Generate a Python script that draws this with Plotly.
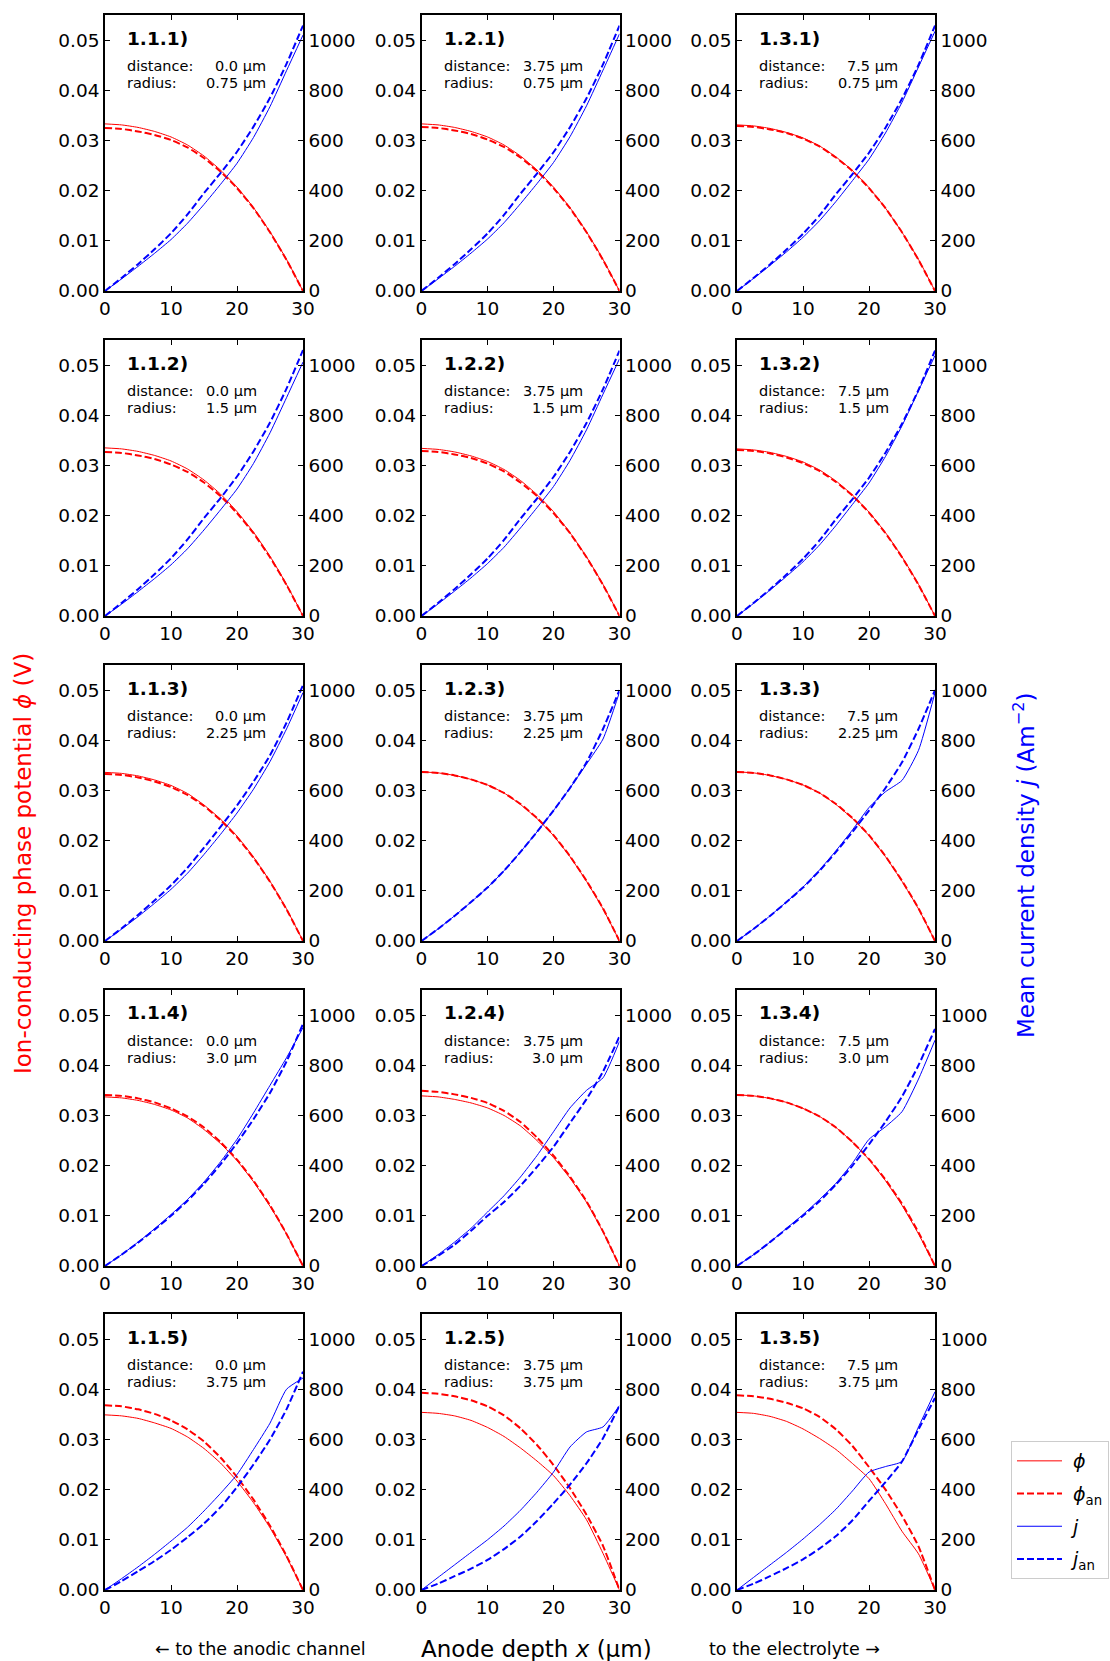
import plotly.graph_objects as go

# ---------------- data ----------------
x_depth = [0, 2.5, 5, 7.5, 10, 12.5, 15, 17.5, 20, 22.5, 25, 27.5, 30]

labels = ["1.1.1)", "1.2.1)", "1.3.1)",
          "1.1.2)", "1.2.2)", "1.3.2)",
          "1.1.3)", "1.2.3)", "1.3.3)",
          "1.1.4)", "1.2.4)", "1.3.4)",
          "1.1.5)", "1.2.5)", "1.3.5)"]
distances = ["0.0", "3.75", "7.5"]
radii = ["0.75", "1.5", "2.25", "3.0", "3.75"]

# row 1
phi_111 = [0.0333, 0.0331, 0.0326, 0.0318, 0.0307, 0.0291, 0.0269, 0.0241, 0.0207, 0.0166, 0.0118, 0.0063, 0.0]
phian_111 = [0.0325, 0.0323, 0.0318, 0.0311, 0.0301, 0.0286, 0.0265, 0.0238, 0.0205, 0.0165, 0.0117, 0.0062, 0.0]
j_111 = [0, 48, 98, 150, 205, 270, 345, 425, 509, 612, 735, 878, 1020]
jan_111 = [0, 52, 107, 166, 230, 305, 390, 470, 555, 655, 770, 905, 1058]

phi_121 = [0.0333, 0.0331, 0.0326, 0.0318, 0.0307, 0.0291, 0.0269, 0.0241, 0.0207, 0.0166, 0.0118, 0.0063, 0.0]
phian_121 = [0.0327, 0.0325, 0.0320, 0.0313, 0.0302, 0.0287, 0.0266, 0.0239, 0.0205, 0.0165, 0.0117, 0.0062, 0.0]
j_121 = [0, 48, 98, 151, 207, 272, 348, 428, 512, 615, 738, 880, 1025]
jan_121 = [0, 52, 107, 166, 229, 303, 388, 468, 553, 653, 768, 903, 1058]

phi_131 = [0.0331, 0.0329, 0.0324, 0.0316, 0.0305, 0.0289, 0.0267, 0.0240, 0.0206, 0.0165, 0.0117, 0.0063, 0.0]
phian_131 = [0.0329, 0.0327, 0.0322, 0.0315, 0.0304, 0.0288, 0.0266, 0.0239, 0.0205, 0.0165, 0.0117, 0.0062, 0.0]
j_131 = [0, 50, 102, 156, 214, 280, 357, 440, 525, 630, 752, 893, 1035]
jan_131 = [0, 52, 106, 165, 228, 301, 386, 466, 551, 651, 766, 901, 1058]

# row 2
phi_112 = [0.0335, 0.0333, 0.0328, 0.0320, 0.0309, 0.0293, 0.0271, 0.0243, 0.0208, 0.0167, 0.0119, 0.0063, 0.0]
phian_112 = [0.0327, 0.0325, 0.0320, 0.0313, 0.0302, 0.0287, 0.0266, 0.0239, 0.0205, 0.0165, 0.0117, 0.0062, 0.0]
j_112 = [0, 47, 97, 149, 204, 268, 343, 423, 506, 608, 730, 870, 1012]
jan_112 = [0, 52, 107, 166, 230, 305, 390, 470, 556, 656, 771, 906, 1060]

phi_122 = [0.0334, 0.0332, 0.0327, 0.0319, 0.0308, 0.0292, 0.0270, 0.0242, 0.0208, 0.0166, 0.0118, 0.0063, 0.0]
phian_122 = [0.0329, 0.0327, 0.0322, 0.0315, 0.0304, 0.0288, 0.0266, 0.0239, 0.0205, 0.0165, 0.0117, 0.0062, 0.0]
j_122 = [0, 48, 99, 152, 209, 274, 351, 432, 516, 620, 742, 884, 1025]
jan_122 = [0, 52, 107, 166, 229, 303, 388, 468, 554, 654, 769, 904, 1058]

phi_132 = [0.0333, 0.0331, 0.0326, 0.0318, 0.0307, 0.0291, 0.0269, 0.0241, 0.0207, 0.0166, 0.0118, 0.0063, 0.0]
phian_132 = [0.0331, 0.0329, 0.0324, 0.0316, 0.0305, 0.0289, 0.0267, 0.0240, 0.0206, 0.0165, 0.0117, 0.0062, 0.0]
j_132 = [0, 50, 103, 158, 216, 283, 361, 445, 530, 636, 758, 898, 1038]
jan_132 = [0, 52, 106, 165, 228, 301, 386, 466, 551, 651, 766, 901, 1058]

# row 3
phi_113 = [0.0336, 0.0334, 0.0329, 0.0321, 0.0310, 0.0294, 0.0271, 0.0243, 0.0209, 0.0167, 0.0119, 0.0064, 0.0]
phian_113 = [0.0333, 0.0331, 0.0326, 0.0318, 0.0307, 0.0291, 0.0269, 0.0241, 0.0207, 0.0166, 0.0118, 0.0063, 0.0]
j_113 = [0, 47, 97, 150, 206, 270, 345, 425, 510, 605, 715, 845, 990]
jan_113 = [0, 50, 104, 161, 222, 292, 372, 455, 540, 635, 740, 870, 1020]

phi_123 = [0.0337, 0.0335, 0.0330, 0.0322, 0.0311, 0.0295, 0.0272, 0.0244, 0.0210, 0.0168, 0.0119, 0.0064, 0.0]
phian_123 = [0.0337, 0.0335, 0.0330, 0.0322, 0.0311, 0.0295, 0.0273, 0.0245, 0.0211, 0.0169, 0.0120, 0.0065, 0.0]
j_123 = [0, 48, 100, 155, 213, 280, 355, 435, 520, 610, 705, 805, 992]
jan_123 = [0, 48, 100, 155, 213, 280, 355, 435, 520, 610, 712, 845, 1000]

phi_133 = [0.0337, 0.0335, 0.0330, 0.0322, 0.0311, 0.0295, 0.0272, 0.0244, 0.0210, 0.0168, 0.0119, 0.0064, 0.0]
phian_133 = [0.0337, 0.0335, 0.0330, 0.0322, 0.0311, 0.0295, 0.0273, 0.0245, 0.0211, 0.0169, 0.0120, 0.0065, 0.0]
j_133 = [0, 48, 100, 156, 215, 283, 360, 443, 532, 595, 640, 760, 990]
jan_133 = [0, 48, 100, 155, 213, 280, 355, 435, 520, 610, 712, 845, 1000]

# row 4
phi_114 = [0.0337, 0.0335, 0.0330, 0.0322, 0.0311, 0.0295, 0.0272, 0.0244, 0.0210, 0.0168, 0.0119, 0.0064, 0.0]
phian_114 = [0.0341, 0.0339, 0.0334, 0.0326, 0.0314, 0.0298, 0.0276, 0.0247, 0.0212, 0.0170, 0.0121, 0.0064, 0.0]
j_114 = [0, 45, 95, 148, 205, 265, 335, 415, 505, 610, 720, 830, 950]
jan_114 = [0, 45, 93, 145, 200, 260, 328, 405, 490, 585, 690, 815, 965]

phi_124 = [0.0339, 0.0337, 0.0332, 0.0325, 0.0315, 0.0300, 0.0279, 0.0250, 0.0216, 0.0175, 0.0127, 0.0068, 0.0]
phian_124 = [0.0349, 0.0347, 0.0342, 0.0335, 0.0325, 0.0309, 0.0287, 0.0256, 0.0220, 0.0178, 0.0129, 0.0069, 0.0]
j_124 = [0, 45, 95, 150, 215, 280, 355, 440, 535, 630, 700, 750, 895]
jan_124 = [0, 40, 85, 140, 200, 255, 320, 395, 475, 570, 665, 775, 915]

phi_134 = [0.0341, 0.0339, 0.0334, 0.0326, 0.0314, 0.0298, 0.0276, 0.0247, 0.0212, 0.0170, 0.0121, 0.0064, 0.0]
phian_134 = [0.0341, 0.0339, 0.0334, 0.0326, 0.0314, 0.0298, 0.0276, 0.0247, 0.0213, 0.0172, 0.0124, 0.0067, 0.0]
j_134 = [0, 45, 95, 150, 205, 265, 330, 410, 505, 555, 615, 745, 900]
jan_134 = [0, 45, 95, 148, 200, 258, 325, 400, 485, 575, 675, 800, 945]

# row 5
phi_115 = [0.0349, 0.0347, 0.0342, 0.0333, 0.0322, 0.0305, 0.0282, 0.0253, 0.0217, 0.0174, 0.0124, 0.0066, 0.0]
phian_115 = [0.0368, 0.0366, 0.0360, 0.0351, 0.0338, 0.0320, 0.0296, 0.0264, 0.0225, 0.0180, 0.0128, 0.0068, 0.0]
j_115 = [0, 45, 92, 142, 195, 250, 315, 385, 460, 560, 665, 800, 845]
jan_115 = [0, 35, 75, 115, 160, 210, 265, 330, 410, 500, 600, 720, 870]

phi_125 = [0.0354, 0.0352, 0.0347, 0.0338, 0.0324, 0.0306, 0.0283, 0.0257, 0.0228, 0.0188, 0.0140, 0.0073, 0.0]
phian_125 = [0.0393, 0.0391, 0.0386, 0.0378, 0.0366, 0.0348, 0.0322, 0.0289, 0.0249, 0.0203, 0.0150, 0.0088, 0.0]
j_125 = [0, 50, 100, 150, 200, 255, 318, 390, 470, 570, 630, 650, 735]
jan_125 = [0, 25, 55, 85, 120, 163, 213, 275, 345, 420, 505, 605, 735]

phi_135 = [0.0354, 0.0352, 0.0346, 0.0336, 0.0321, 0.0302, 0.0280, 0.0252, 0.0222, 0.0172, 0.0117, 0.0072, 0.0]
phian_135 = [0.0388, 0.0386, 0.0381, 0.0373, 0.0362, 0.0345, 0.0320, 0.0287, 0.0245, 0.0200, 0.0148, 0.0087, 0.0]
j_135 = [0, 50, 100, 150, 203, 260, 322, 395, 470, 492, 512, 650, 790]
jan_135 = [0, 25, 55, 87, 122, 165, 215, 278, 355, 430, 512, 640, 765]

phi_tick_vals = [0, 0.01, 0.02, 0.03, 0.04, 0.05]
phi_tick_text = ["0.00", "0.01", "0.02", "0.03", "0.04", "0.05"]
j_tick_vals = [0, 200, 400, 600, 800, 1000]
x_tick_vals = [0, 10, 20, 30]

series = [
    (phi_111, phian_111, j_111, jan_111), (phi_121, phian_121, j_121, jan_121), (phi_131, phian_131, j_131, jan_131),
    (phi_112, phian_112, j_112, jan_112), (phi_122, phian_122, j_122, jan_122), (phi_132, phian_132, j_132, jan_132),
    (phi_113, phian_113, j_113, jan_113), (phi_123, phian_123, j_123, jan_123), (phi_133, phian_133, j_133, jan_133),
    (phi_114, phian_114, j_114, jan_114), (phi_124, phian_124, j_124, jan_124), (phi_134, phian_134, j_134, jan_134),
    (phi_115, phian_115, j_115, jan_115), (phi_125, phian_125, j_125, jan_125), (phi_135, phian_135, j_135, jan_135),
]

# ---------------- layout ----------------
W, H = 1110, 1661
FONT = "DejaVu Sans"
col_left = [105, 421.5, 737]
row_top = [15, 340, 665, 990, 1314]
PW, PH = 198, 276


def fx(p):
    return p / W


def fy(p):
    return 1 - p / H


fig = go.Figure()
layout = dict(
    width=W, height=H,
    margin=dict(l=0, r=0, t=0, b=0, autoexpand=False),
    paper_bgcolor="white", plot_bgcolor="white",
    font=dict(family=FONT, color="black", size=18),
    showlegend=True,
)
annotations = []

RED = "#ff0000"
BLUE = "#0000ff"
SMOOTH = 0.5
PHI = "\u03d5"

legend_names = [f"&nbsp;<i>{PHI}</i>", f"&nbsp;<i>{PHI}</i><sub>an</sub>", "&nbsp;<i>j</i>", "&nbsp;<i>j</i><sub>an</sub>"]

for k in range(15):
    r, c = divmod(k, 3)
    n = k + 1
    xname = "xaxis" if n == 1 else f"xaxis{n}"
    xref = "x" if n == 1 else f"x{n}"
    ia, ib = 2 * n - 1, 2 * n
    ya_name = "yaxis" if ia == 1 else f"yaxis{ia}"
    ya_ref = "y" if ia == 1 else f"y{ia}"
    yb_name = f"yaxis{ib}"
    yb_ref = f"y{ib}"
    L = col_left[c]
    T = row_top[r]
    common = dict(showline=True, linecolor="black", linewidth=1.6, ticks="inside",
                  ticklen=5, tickwidth=1.3, tickcolor="black", showgrid=False,
                  zeroline=False, automargin=False,
                  tickfont=dict(family=FONT, size=18.5, color="black"))
    layout[xname] = dict(domain=[fx(L), fx(L + PW)], range=[0, 30], anchor=ya_ref,
                         tickvals=x_tick_vals, mirror="ticks", **common)
    layout[ya_name] = dict(domain=[fy(T + PH), fy(T)], range=[0, 0.055], anchor=xref,
                           tickvals=phi_tick_vals, ticktext=phi_tick_text, side="left", **common)
    layout[yb_name] = dict(domain=[fy(T + PH), fy(T)], range=[0, 1100], anchor=xref,
                           overlaying=ya_ref, side="right", tickvals=j_tick_vals, **common)

    phi, phian, jj, jan = series[k]
    first = (k == 0)
    specs = [
        (phi, RED, 1, "solid", ya_ref),
        (phian, RED, 2, "7px,3px", ya_ref),
        (jj, BLUE, 1, "solid", yb_ref),
        (jan, BLUE, 2, "7px,3px", yb_ref),
    ]
    for i, (yy, col, w, dash, yref) in enumerate(specs):
        fig.add_trace(go.Scatter(x=x_depth, y=yy, mode="lines",
                                 line=dict(color=col, width=w, dash=dash, shape="spline", smoothing=SMOOTH),
                                 name=legend_names[i], legendgroup=f"g{i}", showlegend=first,
                                 xaxis=xref, yaxis=yref))

    # panel texts
    annotations.append(dict(x=fx(L + 20), y=fy(T + 23), xref="paper", yref="paper",
                            text=f"<b>{labels[k]}</b>", showarrow=False, xanchor="left", yanchor="middle",
                            font=dict(family=FONT, size=18.5, color="black")))
    dval = distances[c] + " μm"
    rval = radii[r] + " μm"
    right = L + (163 if max(len(distances[c]), len(radii[r])) >= 4 else 154)
    for txt, val, dy in (("distance:", dval, 51), ("radius:", rval, 68)):
        annotations.append(dict(x=fx(L + 20), y=fy(T + dy), xref="paper", yref="paper", text=txt,
                                showarrow=False, xanchor="left", yanchor="middle",
                                font=dict(family=FONT, size=14.5, color="black")))
        annotations.append(dict(x=fx(right), y=fy(T + dy), xref="paper", yref="paper", text=val,
                                showarrow=False, xanchor="right", yanchor="middle",
                                font=dict(family=FONT, size=14.5, color="black")))

# global labels
annotations += [
    dict(x=fx(23), y=fy(864), xref="paper", yref="paper", text=f"Ion-conducting phase potential <i>{PHI}</i> (V)",
         textangle=-90, showarrow=False, xanchor="center", yanchor="middle",
         font=dict(family=FONT, size=23, color=RED)),
    dict(x=fx(1024), y=fy(866), xref="paper", yref="paper", text="Mean current density <i>j</i> (Am<sup>−2</sup>)",
         textangle=-90, showarrow=False, xanchor="center", yanchor="middle",
         font=dict(family=FONT, size=23, color=BLUE)),
    dict(x=fx(260), y=fy(1649), xref="paper", yref="paper", text="← to the anodic channel",
         showarrow=False, xanchor="center", yanchor="middle", font=dict(family=FONT, size=17.5, color="black")),
    dict(x=fx(536), y=fy(1649), xref="paper", yref="paper", text="Anode depth <i>x</i> (μm)",
         showarrow=False, xanchor="center", yanchor="middle", font=dict(family=FONT, size=23, color="black")),
    dict(x=fx(794), y=fy(1649), xref="paper", yref="paper", text="to the electrolyte →",
         showarrow=False, xanchor="center", yanchor="middle", font=dict(family=FONT, size=17.5, color="black")),
]
layout["annotations"] = annotations
layout["legend"] = dict(x=fx(1011), y=fy(1441), xanchor="left", yanchor="top",
                        bgcolor="white", bordercolor="#cccccc", borderwidth=1, itemwidth=45,
                        tracegroupgap=5,
                        font=dict(family=FONT, size=19, color="black"))
fig.update_layout(**layout)

fig.write_html("out.html", config={"displayModeBar": False},
               post_script="document.body.style.margin='0';document.body.style.overflow='hidden';")
